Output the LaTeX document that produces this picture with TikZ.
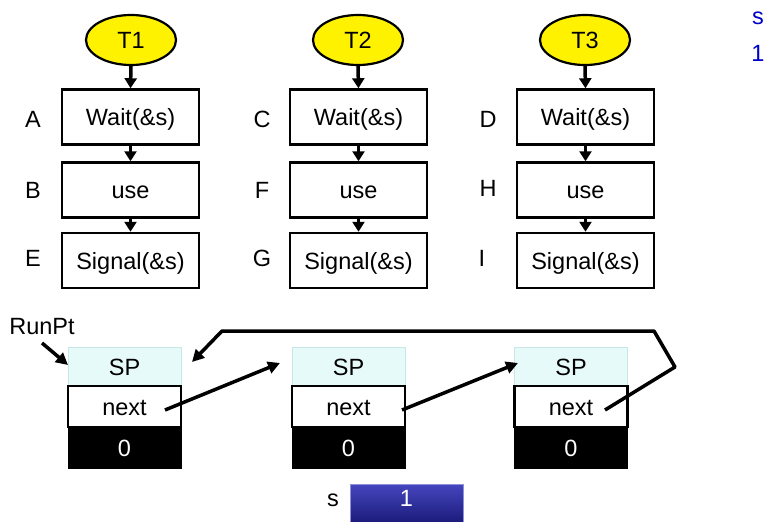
\documentclass[tikz,border=0pt]{standalone}
\usepackage{fontspec}
\setmainfont{Liberation Sans}
\usetikzlibrary{arrows.meta,shapes.geometric}
\definecolor{spfill}{RGB}{230,250,250}
\definecolor{spdraw}{RGB}{200,232,232}
\definecolor{tblue}{RGB}{0,0,200}
\definecolor{stop}{RGB}{70,70,190}
\definecolor{sbot}{RGB}{25,25,120}
\begin{document}
\begin{tikzpicture}[x=1pt,y=-1pt,font=\fontsize{23.5}{27}\selectfont,
  every node/.append style={text height=17pt,text depth=0pt},
  task/.style={ellipse,draw=black,line width=2.2pt,fill=yellow,minimum width=90pt,minimum height=50pt,inner sep=0pt},
  stepbox/.style={draw=black,line width=2.5pt,minimum width=137pt,minimum height=55pt,inner sep=0pt},
  spbox/.style={draw=spdraw,line width=1pt,fill=spfill,minimum width=113pt,minimum height=39pt,inner sep=0pt},
  nextbox/.style={draw=black,line width=2.5pt,fill=white,minimum width=113pt,minimum height=41pt,inner sep=0pt},
  zerobox/.style={draw=black,line width=1pt,fill=black,text=white,minimum width=113pt,minimum height=41pt,inner sep=0pt},
  lbl/.style={inner sep=0pt},
  varr/.style={line width=3.5pt,-{Triangle[length=10pt,width=12pt]}},
  parr/.style={line width=3.5pt,-{Triangle[length=12pt,width=12pt]}}]
\useasboundingbox (0,0) rectangle (772,522);

% tasks
\node[task] (t1) at (131,40) {T1};
\node[task] (t2) at (358,40) {T2};
\node[task] (t3) at (585,40) {T3};

\node[stepbox] (w1) at (130.5,117) {Wait(\&s)};
\node[stepbox] (u1) at (130.5,190) {use};
\node[stepbox] (s1) at (130.5,260.5) {Signal(\&s)};
\node[stepbox] (w2) at (358.5,117) {Wait(\&s)};
\node[stepbox] (u2) at (358.5,190) {use};
\node[stepbox] (s2) at (358.5,260.5) {Signal(\&s)};
\node[stepbox] (w3) at (585.5,117) {Wait(\&s)};
\node[stepbox] (u3) at (585.5,190) {use};
\node[stepbox] (s3) at (585.5,260.5) {Signal(\&s)};

\foreach \c in {1,2,3}{
  \draw[varr] (t\c.south) -- (w\c.north);
  \draw[varr] (w\c.south) -- (u\c.north);
  \draw[varr] (u\c.south) -- (s\c.north);
}

\node[lbl] (la) at (33,119) {A};
\node[lbl] (lb) at (33,190) {B};
\node[lbl] (le) at (33,258) {E};
\node[lbl] (lc) at (262,119) {C};
\node[lbl] (lf) at (262,190) {F};
\node[lbl] (lg) at (262,258) {G};
\node[lbl] (ld) at (488,119) {D};
\node[lbl] (lh) at (488,188) {H};
\node[lbl] (li) at (482,258) {I};

% TCBs
\node[spbox] (sp1) at (124.5,366.5) {SP};
\node[nextbox] (nx1) at (124.5,406.5) {next};
\node[zerobox] (z1) at (124.5,447.5) {0};
\node[spbox] (sp2) at (348.5,366.5) {SP};
\node[nextbox] (nx2) at (348.5,406.5) {next};
\node[zerobox] (z2) at (348.5,447.5) {0};
\node[spbox] (sp3) at (571,366.5) {SP};
\node[nextbox] (nx3) at (571,406.5) {next};
\node[zerobox] (z3) at (571,447.5) {0};

\node[lbl] (runpt) at (42,326) {RunPt};
\coordinate (rpA) at (42,343);
\coordinate (rpB) at (68,365);
\draw[parr] (rpA) -- (rpB);

\coordinate (a1s) at (165,410);
\coordinate (a1e) at (280,363);
\draw[parr] (a1s) -- (a1e);
\coordinate (a2s) at (402,410);
\coordinate (a2e) at (518,363);
\draw[parr] (a2s) -- (a2e);
\coordinate (a3s) at (605,410);
\coordinate (k1) at (675,367);
\coordinate (k2) at (654,331);
\coordinate (k3) at (222,331);
\coordinate (a3e) at (192,362);
\draw[parr,line join=round] (a3s) -- (k1) -- (k2) -- (k3) -- (a3e);

% semaphore
\node[lbl] (slbl) at (333,498) {s};
\shade[top color=stop,bottom color=sbot,draw=stop!60!white,line width=0.6pt] (350,484) rectangle (463,524);
\node[lbl,text=white] (sval) at (406.5,498) {1};

\node[lbl,text=tblue] (sv) at (758,16) {s};
\node[lbl,text=tblue] (s1v) at (758,53) {1};
\end{tikzpicture}
\end{document}
